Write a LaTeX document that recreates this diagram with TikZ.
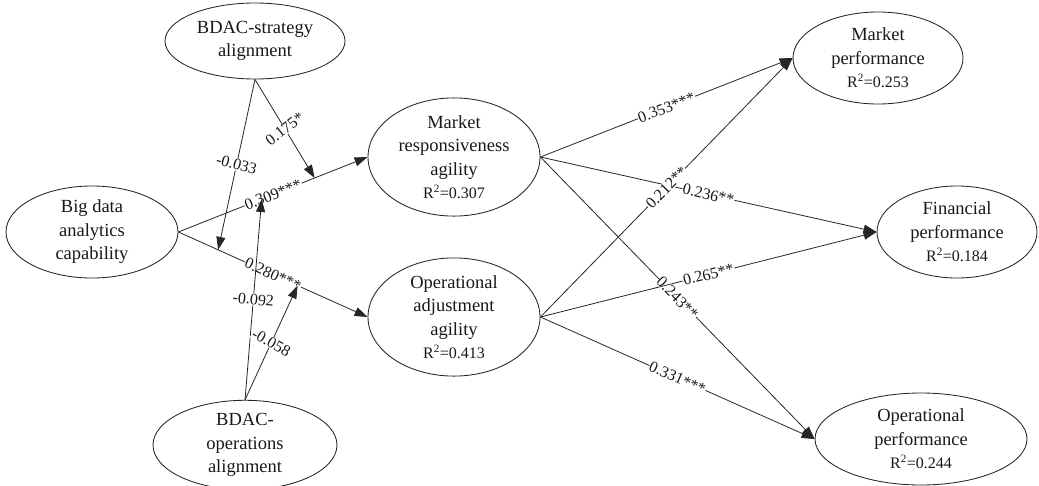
\documentclass[tikz,border=0pt]{standalone}
\usepackage{fontspec}
\setmainfont{Liberation Serif}
\usetikzlibrary{shapes.geometric,arrows.meta}
\begin{document}
\begin{tikzpicture}[x=1pt,y=-1pt,
  var/.style={draw=black!85, line width=0.85pt, ellipse, inner sep=0pt, align=center,
    font=\fontsize{18.5}{23.5}\selectfont, text=black!90},
  arr/.style={draw=black!85, line width=0.8pt, -{Triangle[length=13pt,width=9pt]}},
  lab/.style={font=\fontsize{16}{18}\selectfont, fill=white, inner sep=0.6pt, text=black!90}
]
\useasboundingbox[fill=white] (0,0) rectangle (1039,485);
% latent variables
\node[var, minimum width=180pt, minimum height=76pt] (st) at (255,41) {BDAC-strategy\\alignment};
\node[var, minimum width=172pt, minimum height=92pt] (bd) at (92,232) {Big data\\analytics\\capability};
\node[var, minimum width=184pt, minimum height=78pt] (op) at (245,445) {BDAC-\\operations\\alignment};
\node[var, minimum width=172pt, minimum height=106pt] (mr) at (454,157) {Market\\responsiveness\\agility\\{\fontsize{16}{18}\selectfont R\textsuperscript{2}=0.307}};
\node[var, minimum width=172pt, minimum height=106pt] (oa) at (454,317) {Operational\\adjustment\\agility\\{\fontsize{16}{18}\selectfont R\textsuperscript{2}=0.413}};
\node[var, minimum width=170pt, minimum height=92pt] (mp) at (878,58) {Market\\performance\\{\fontsize{16}{18}\selectfont R\textsuperscript{2}=0.253}};
\node[var, minimum width=160pt, minimum height=92pt] (fp) at (957,232) {Financial\\performance\\{\fontsize{16}{18}\selectfont R\textsuperscript{2}=0.184}};
\node[var, minimum width=212pt, minimum height=92pt] (pp) at (921,439) {Operational\\performance\\{\fontsize{16}{18}\selectfont R\textsuperscript{2}=0.244}};
% main paths
\draw[arr] (bd.east) -- node[lab, sloped] {0.309***} (mr.west);
\draw[arr] (bd.east) -- node[lab, sloped] {0.280***} (oa.west);
% points on main paths hit by moderators
\path (bd.east) -- (mr.west) coordinate[pos=0.72] (m1) coordinate[pos=0.44] (m2);
\path (bd.east) -- (oa.west) coordinate[pos=0.21] (m3) coordinate[pos=0.63] (m4);
% moderators
\draw[arr] (st.south) -- node[lab, rotate=38] {0.175*} (m1);
\draw[arr] (st.south) -- node[lab, rotate=-15] {-0.033} (m3);
\draw[arr] (op.north) -- node[lab, rotate=-5] {-0.092} (m2);
\draw[arr] (op.north) -- node[lab, rotate=-29] {-0.058} (m4);
% outcome paths
\draw[arr] (mr.east) -- node[lab, sloped] {0.353***} (mp.west);
\draw[arr] (mr.east) -- node[lab, sloped] {0.236**} (fp.west);
\draw[arr] (mr.east) -- node[lab, sloped] {0.243**} (pp.west);
\draw[arr] (oa.east) -- node[lab, sloped] {0.212**} (mp.west);
\draw[arr] (oa.east) -- node[lab, sloped] {0.265**} (fp.west);
\draw[arr] (oa.east) -- node[lab, sloped] {0.331***} (pp.west);
\end{tikzpicture}
\end{document}
